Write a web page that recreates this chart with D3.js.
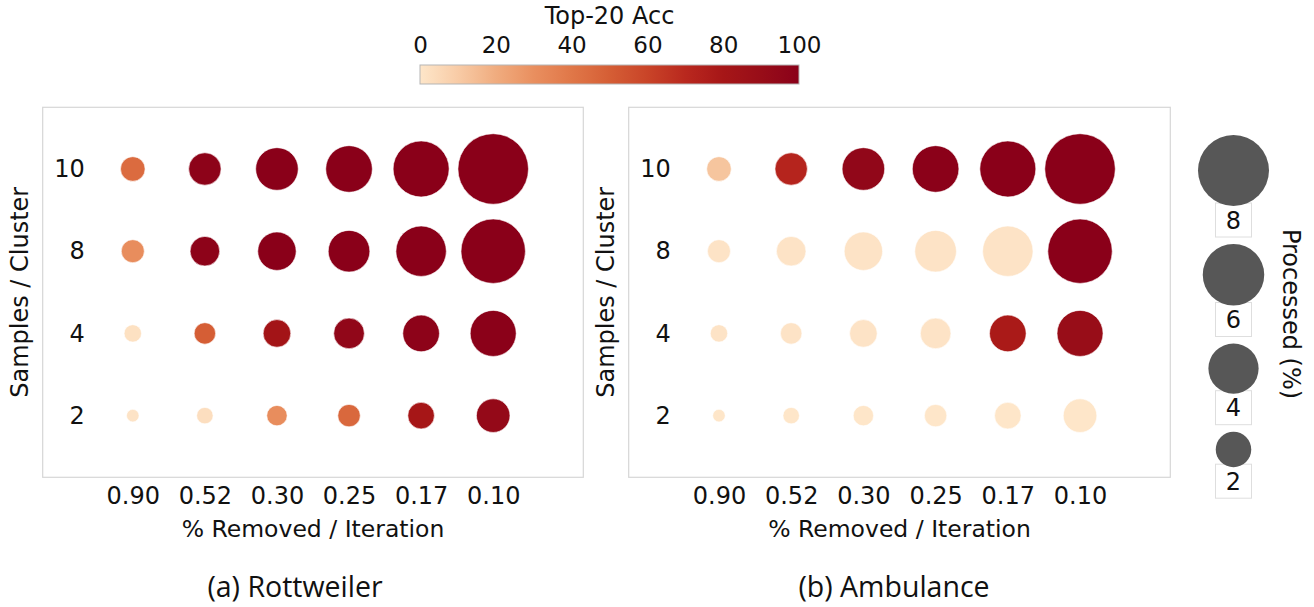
<!DOCTYPE html>
<html>
<head>
<meta charset="utf-8">
<script src="https://cdn.jsdelivr.net/npm/d3@7"></script>
<style>
  body { margin: 0; background: #fff; }
  svg text { font-family: "DejaVu Sans", sans-serif; fill: #111; }
</style>
</head>
<body>
<svg id="chart" width="1314" height="607"></svg>
<script>
// categories
const removedLabels = ["0.90", "0.52", "0.30", "0.25", "0.17", "0.10"];
const sampleLabels = ["10", "8", "4", "2"];
const colorTicks = [0, 20, 40, 60, 80, 100];
const legendSizes = [8, 6, 4, 2];

// processed (%) per cell -> circle size, rows follow sampleLabels
const processed = [
  [0.96, 1.67, 2.88, 3.45, 4.98, 7.9],
  [0.84, 1.39, 2.34, 2.75, 4.03, 6.58],
  [0.48, 0.73, 1.21, 1.49, 2.13, 3.36],
  [0.25, 0.43, 0.66, 0.80, 1.12, 1.79]
];

// top-20 accuracy per cell -> colour
const accRottweiler = [
  [45, 98, 100, 100, 100, 100],
  [31, 98, 100, 100, 100, 100],
  [2, 50, 82, 95, 98, 99],
  [1, 3, 31, 46, 80, 93]
];
const accAmbulance = [
  [12, 72, 95, 99, 100, 100],
  [1, 1, 1, 1, 1, 100],
  [1, 1, 1, 1, 78, 90],
  [0, 0, 0, 0, 0, 0]
];

const svg = d3.select("#chart");

const color = d3.scaleLinear()
  .domain([0, 10, 20, 30, 40, 50, 60, 70, 80, 90, 100])
  .range(["#fee6c9", "#f8cba6", "#f0ac7f", "#e98f5f", "#e07748", "#d55e35",
          "#c94428", "#b9281e", "#a61617", "#980d18", "#8a0019"]);

const size = d3.scaleSqrt().domain([0, 8]).range([0, 35.5]);

// colour bar
const cb = { x0: 420, x1: 799, y: 65, h: 19 };
const grad = svg.append("defs").append("linearGradient").attr("id", "cbar");
d3.range(0, 101, 5).forEach(v => {
  grad.append("stop").attr("offset", v + "%").attr("stop-color", color(v));
});
svg.append("rect")
  .attr("x", cb.x0).attr("y", cb.y)
  .attr("width", cb.x1 - cb.x0).attr("height", cb.h)
  .attr("fill", "url(#cbar)")
  .attr("stroke", "#b5b5b5").attr("stroke-width", 1);

const cbScale = d3.scaleLinear().domain([0, 100]).range([cb.x0, cb.x1]);
const cbAxis = svg.append("g")
  .attr("transform", "translate(0," + cb.y + ")")
  .call(d3.axisTop(cbScale).tickValues(colorTicks).tickSize(0).tickPadding(12));
cbAxis.select(".domain").remove();
cbAxis.selectAll("text").style("font-size", "23px").attr("fill", "#111");

svg.append("text")
  .attr("x", (cb.x0 + cb.x1) / 2).attr("y", 24)
  .attr("text-anchor", "middle")
  .style("font-size", "24px")
  .text("Top-20 Acc");

function drawPanel(acc, box, labelX, caption, captionX) {
  const x = d3.scalePoint().domain(removedLabels).range([box.x0, box.x1]).padding(1.25);
  const y = d3.scalePoint().domain(sampleLabels).range([box.y0, box.y1]).padding(0.75);

  svg.append("rect")
    .attr("x", box.x0).attr("y", box.y0)
    .attr("width", box.x1 - box.x0).attr("height", box.y1 - box.y0)
    .attr("fill", "none").attr("stroke", "#d6d6d6").attr("stroke-width", 1.2);

  const cells = [];
  sampleLabels.forEach((s, i) => {
    removedLabels.forEach((r, j) => {
      cells.push({ s: s, r: r, acc: acc[i][j], p: processed[i][j] });
    });
  });

  svg.append("g").selectAll("circle")
    .data(cells)
    .enter().append("circle")
    .attr("cx", d => x(d.r))
    .attr("cy", d => y(d.s))
    .attr("r", d => size(d.p))
    .attr("fill", d => color(d.acc))
    .attr("stroke", "#fff").attr("stroke-width", 0.6);

  // x axis, labels under the frame
  const gx = svg.append("g")
    .attr("transform", "translate(0," + box.y1 + ")")
    .call(d3.axisBottom(x).tickSize(0).tickPadding(10));
  gx.select(".domain").remove();
  gx.selectAll("text").style("font-size", "24px").attr("fill", "#111");

  // y axis, labels sit inside the frame
  const gy = svg.append("g")
    .attr("transform", "translate(" + (box.x0 + 45) + ",0)")
    .call(d3.axisLeft(y).tickSize(0).tickPadding(3));
  gy.select(".domain").remove();
  gy.selectAll("text").style("font-size", "24px").attr("fill", "#111");

  svg.append("text")
    .attr("x", (box.x0 + box.x1) / 2).attr("y", 537)
    .attr("text-anchor", "middle")
    .style("font-size", "23.5px")
    .text("% Removed / Iteration");

  svg.append("text")
    .attr("transform", "translate(" + labelX + "," + ((box.y0 + box.y1) / 2) + ") rotate(-90)")
    .attr("text-anchor", "middle")
    .style("font-size", "24px")
    .text("Samples / Cluster");

  svg.append("text")
    .attr("x", captionX).attr("y", 597)
    .attr("text-anchor", "middle")
    .style("font-family", "'Open Sans', sans-serif")
    .style("font-size", "28.5px")
    .text(caption);
}

drawPanel(accRottweiler, { x0: 42.7, x1: 583.3, y0: 107.3, y1: 477.3 }, 28, "(a) Rottweiler", 295);
drawPanel(accAmbulance, { x0: 628.7, x1: 1170.3, y0: 107.3, y1: 477.3 }, 614, "(b) Ambulance", 894);

// size legend
const lg = svg.append("g");
const legendX = 1233.5;
let legendTop = 135;
legendSizes.forEach(v => {
  const r = size(v);
  const cy = legendTop + r;
  const boxTop = cy + r - 3;
  const boxH = 34;
  lg.append("rect")
    .attr("x", legendX - 18).attr("y", boxTop)
    .attr("width", 36).attr("height", boxH)
    .attr("fill", "#fff").attr("stroke", "#dedede").attr("stroke-width", 1);
  lg.append("circle")
    .attr("cx", legendX).attr("cy", cy).attr("r", r)
    .attr("fill", "#575757");
  lg.append("text")
    .attr("x", legendX).attr("y", boxTop + boxH / 2)
    .attr("dy", "0.36em")
    .attr("text-anchor", "middle")
    .style("font-size", "24px")
    .text(v);
  legendTop = boxTop + boxH + 7;
});

svg.append("text")
  .attr("transform", "translate(1283,314) rotate(90)")
  .attr("text-anchor", "middle")
  .style("font-size", "24px")
  .text("Processed (%)");
</script>
</body>
</html>
